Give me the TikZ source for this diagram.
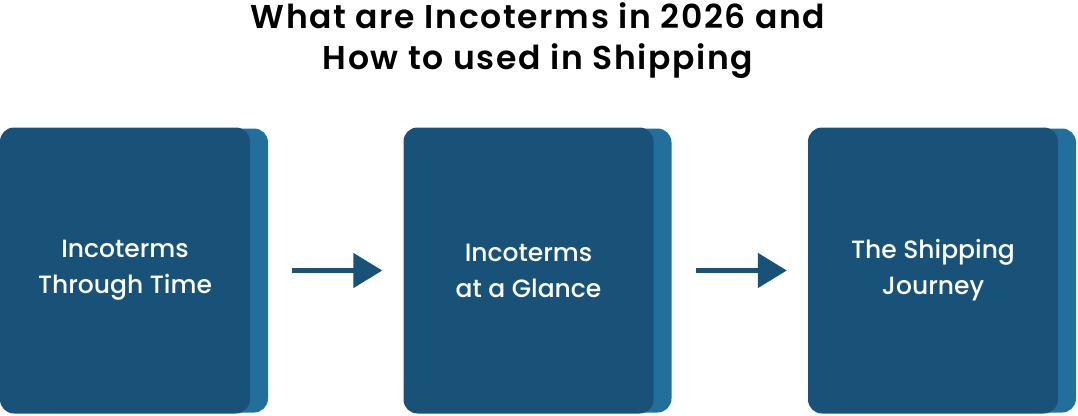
\documentclass[tikz,border=0pt]{standalone}
\usepackage{fontspec}
\setmainfont{Poppins}
\newfontfamily\titlefont{Poppins SemiBold}[LetterSpace=5]
\newfontfamily\boxfont{Poppins Medium}
\usepackage{xcolor}
\usetikzlibrary{arrows.meta}
\definecolor{frontblue}{RGB}{25,82,121}
\definecolor{backblue}{RGB}{34,111,156}

\begin{document}
\begin{tikzpicture}[x=1pt,y=-1pt,
  frontbox/.style={fill=frontblue, rounded corners=14pt, minimum width=250pt,
    minimum height=286pt, text=white, align=center, inner sep=0pt,
    font=\boxfont\fontsize{25}{36}\selectfont},
  backbox/.style={fill=backblue, rounded corners=14pt, minimum width=250pt,
    minimum height=284pt, inner sep=0pt},
  flow/.style={draw=frontblue, line width=5pt,
    -{Triangle[length=29pt,width=34pt]}, shorten <=24pt, shorten >=21pt}]

\useasboundingbox (0,0) rectangle (1078,415);

\node[font=\titlefont\fontsize{33}{41}\selectfont, align=center] (title) at (538,41)
  {What are Incoterms in 2026 and\\How to used in Shipping};

% back layers
\node[backbox] (back1) at (143,270.5) {};
\node[backbox] (back2) at (546.5,270.5) {};
\node[backbox] (back3) at (951,270.5) {};

% front boxes
\node[frontbox] (time) at (125,270.5) {Incoterms\\Through Time};
\node[frontbox] (glance) at (528.5,270.5) {Incoterms\\at a Glance};
\node[frontbox] (journey) at (933,270.5) {The Shipping\\Journey};

\draw[flow] (back1.east) -- (glance.west);
\draw[flow] (back2.east) -- (journey.west);

\end{tikzpicture}
\end{document}
